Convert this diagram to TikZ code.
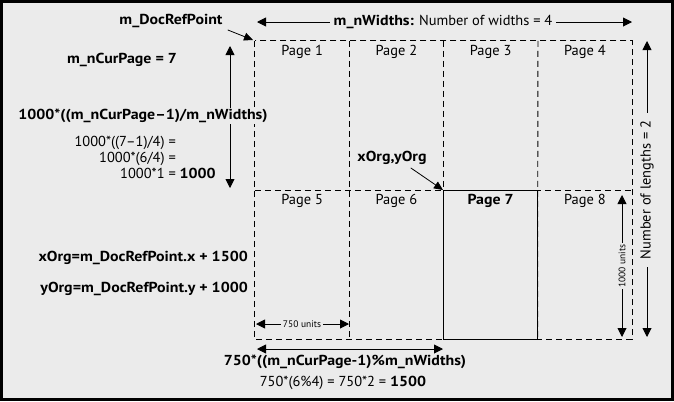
\documentclass[tikz,border=0pt]{standalone}
\usepackage{fontspec}
\setmainfont{PT Sans}[BoldFeatures={FakeStretch=1.1}]
\usetikzlibrary{arrows.meta}
\definecolor{bg}{RGB}{235,235,235}
\tikzset{
  txt/.style={inner sep=1bp, font=\fontsize{14.5}{16}\selectfont},
  btxt/.style={inner sep=1bp, font=\fontsize{14.5}{16}\selectfont\bfseries},
  small/.style={inner sep=1.5bp, font=\fontsize{9.5}{11}\selectfont, fill=bg},
  dim/.style={line width=0.9bp, {Triangle[length=9bp,width=9bp]}-{Triangle[length=9bp,width=9bp]}},
  ptr/.style={line width=0.8bp, -{Triangle[length=9bp,width=8bp]}},
  cell/.style={minimum width=94.25bp, minimum height=149bp, inner sep=0pt},
  gridline/.style={dash pattern=on 6bp off 4bp, line width=0.9bp},
  curbox/.style={cell, draw, solid, line width=0.9bp},
}
\begin{document}
\begin{tikzpicture}[x=1bp,y=-1bp]
\useasboundingbox (0,0) rectangle (674,401);
\fill[bg] (0,0) rectangle (674,401);
\draw[line width=3bp] (1.5,1.5) rectangle (672.5,399.5);

% page cells
\node[cell] (p1) at (302.125,115.5) {};
\node[cell] (p2) at (396.375,115.5) {};
\node[cell] (p3) at (490.625,115.5) {};
\node[cell] (p4) at (584.875,115.5) {};
\node[cell] (p5) at (302.125,264.5) {};
\node[cell] (p6) at (396.375,264.5) {};
\node[cell] (p8) at (584.875,264.5) {};
\draw[gridline] (p1.north west) rectangle (p8.south east);
\draw[gridline] (p1.north east) -- (p5.south east);
\draw[gridline] (p2.north east) -- (p6.south east);
\draw[gridline] (p3.north east) -- (p8.south west);
\draw[gridline] (p1.south west) -- (p4.south east);
\node[curbox, fill=bg] (p7) at (490.625,264.5) {};
\foreach \p/\t in {p1/Page 1,p2/Page 2,p3/Page 3,p4/Page 4,p5/Page 5,p6/Page 6,p8/Page 8}
  \node[txt] (\p l) at ([yshift=-11bp]\p.north) {\t};
\node[btxt] (p7l) at ([yshift=-11bp]p7.north) {Page 7};

% top dimension
\coordinate (wl) at (257,22);
\coordinate (wr) at (632,22);
\draw[dim] (wl) -- (wr);
\node[txt, fill=bg, inner xsep=4bp] (widths) at (443,22) {\textbf{m\_nWidths:} Number of widths = 4};

% doc ref point
\node[btxt] (docref) at (171,21) {m\_DocRefPoint};
\coordinate (origin) at (253,40);
\draw[ptr] (docref.south east) ++(4,1) -- (origin);

% cur page
\node[btxt] (curpage) at (122,60) {m\_nCurPage = 7};

% left vertical dimension
\coordinate (vt) at (230,46);
\coordinate (vb) at (230,188);
\draw[dim] (vt) -- (vb);
\node[btxt, fill=bg] (vlab) at (143,116) {1000*((m\_nCurPage–1)/m\_nWidths)};
\node[txt, anchor=base east] (c1) at (177,146) {1000*((7–1)/4) =};
\node[txt, anchor=base east] (c2) at (177,162) {1000*(6/4) =};
\node[txt, anchor=base east] (c3) at (177,178) {1000*1 =\rlap{ \textbf{1000}}};

% xOrg,yOrg
\node[btxt] (xy) at (392,158) {xOrg,yOrg};
\coordinate (org7) at (443,190);
\draw[ptr] (xy.south east) ++(-17,2) -- (org7);

\node[btxt, anchor=east] (xo) at (249,258) {xOrg=m\_DocRefPoint.x + 1500};
\node[btxt, anchor=east] (yo) at (249,289) {yOrg=m\_DocRefPoint.y + 1000};

% 750 units
\coordinate (ul) at (256,324);
\coordinate (ur) at (349,324);
\draw[dim] (ul) -- (ur);
\node[small] (u750) at (302,324) {750 units};

% bottom dimension
\coordinate (bl) at (257,349);
\coordinate (br) at (443,349);
\draw[dim] (bl) -- (br);
\node[btxt] (blab) at (345,362) {750*((m\_nCurPage-1)\%m\_nWidths)};
\node[txt] (bcalc) at (343,383) {750*(6\%4)\ =\ 750*2\ =\ \textbf{1500}};

% 1000 units
\coordinate (rt) at (622,195);
\coordinate (rb) at (622,337);
\draw[dim] (rt) -- (rb);
\node[small, rotate=90] (u1000) at (622,266) {1000 units};

% number of lengths
\coordinate (nt) at (647,41);
\coordinate (nb) at (647,337);
\draw[dim] (nt) -- (nb);
\node[txt, fill=bg, rotate=90, inner xsep=8bp] (nlen) at (647,190) {Number of lengths = 2};
\end{tikzpicture}
\end{document}
